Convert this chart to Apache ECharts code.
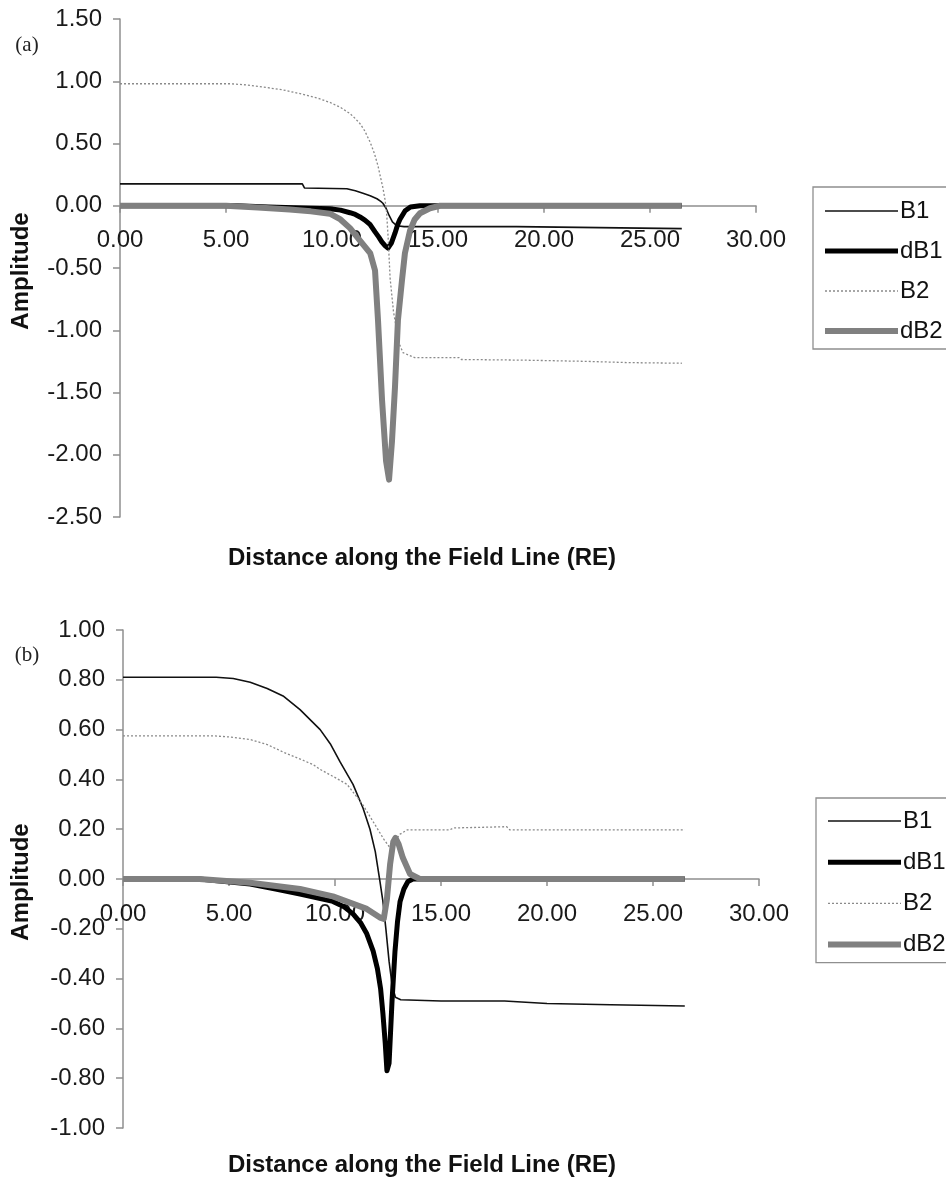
<!DOCTYPE html>
<html><head><meta charset="utf-8">
<script src="https://cdn.jsdelivr.net/npm/echarts@6/dist/echarts.min.js"></script>
<style>html,body{margin:0;padding:0;background:#fff}#c{width:946px;height:1188px}</style>
</head><body><div id="c"></div>
<script>
// ---- data ----
const seriesNames = ['B1', 'dB1', 'B2', 'dB2'];
const panelLabels = ['(a)', '(b)'];
const xTitle = 'Distance along the Field Line (RE)';
const yTitle = 'Amplitude';

// Panel (a): [distance, amplitude]
const a_B1 = [[0,0.176],[8.6,0.176],[8.7,0.143],[10.7,0.136],[11.1,0.12],[11.46,0.10],[11.8,0.08],[12.12,0.056],[12.3,0.035],[12.4,0.02],[12.55,-0.02],[12.7,-0.08],[12.85,-0.13],[13.05,-0.16],[13.4,-0.168],[18.7,-0.168],[18.75,-0.184],[26.5,-0.184]];
const a_dB1 = [[0,0],[5.5,0],[7,-0.01],[9,-0.02],[9.9,-0.024],[10.4,-0.035],[10.85,-0.056],[11.1,-0.07],[11.32,-0.09],[11.55,-0.115],[11.79,-0.15],[12.03,-0.21],[12.2,-0.25],[12.35,-0.29],[12.5,-0.32],[12.64,-0.34],[12.8,-0.3],[12.97,-0.22],[13.1,-0.15],[13.2,-0.11],[13.45,-0.04],[13.7,-0.01],[14.15,0],[26.5,0]];
const a_B2 = [[0,0.98],[5.2,0.98],[6.0,0.97],[6.9,0.95],[7.7,0.93],[8.5,0.9],[9.4,0.86],[9.9,0.83],[10.4,0.79],[10.85,0.74],[11.1,0.70],[11.32,0.66],[11.55,0.6],[11.8,0.51],[12.0,0.42],[12.17,0.32],[12.3,0.22],[12.4,0.145],[12.5,0.05],[12.57,-0.04],[12.65,-0.26],[12.74,-0.58],[12.9,-0.85],[13.05,-1.0],[13.15,-1.1],[13.35,-1.18],[13.9,-1.22],[16.0,-1.22],[16.1,-1.235],[19,-1.24],[22,-1.25],[24,-1.26],[26.5,-1.265]];
const a_dB2 = [[0,0],[5,0],[6.5,-0.015],[8,-0.03],[9,-0.045],[9.9,-0.064],[10.4,-0.11],[10.85,-0.18],[11.32,-0.28],[11.8,-0.38],[12.03,-0.52],[12.17,-0.92],[12.36,-1.56],[12.55,-2.05],[12.69,-2.2],[12.83,-1.89],[12.97,-1.46],[13.11,-0.92],[13.3,-0.6],[13.44,-0.38],[13.68,-0.2],[13.9,-0.11],[14.15,-0.06],[14.62,-0.02],[15.1,0],[26.5,0]];

// Panel (b)
const b_B1 = [[0,0.81],[4.4,0.81],[5.2,0.805],[6.0,0.79],[6.8,0.765],[7.55,0.735],[8.35,0.68],[9.3,0.6],[9.8,0.54],[10.24,0.47],[10.85,0.38],[11.32,0.285],[11.65,0.2],[11.9,0.11],[12.12,-0.01],[12.26,-0.09],[12.4,-0.2],[12.55,-0.33],[12.7,-0.43],[12.85,-0.475],[13.1,-0.485],[15,-0.49],[18,-0.49],[20,-0.5],[23,-0.505],[26.5,-0.51]];
const b_dB1 = [[0,0],[3.6,0],[6.0,-0.02],[7.2,-0.04],[8.35,-0.06],[9.9,-0.09],[10.4,-0.11],[10.85,-0.14],[11.2,-0.175],[11.5,-0.22],[11.8,-0.29],[12.0,-0.36],[12.15,-0.44],[12.26,-0.54],[12.37,-0.66],[12.45,-0.77],[12.55,-0.74],[12.69,-0.49],[12.83,-0.29],[12.95,-0.17],[13.07,-0.09],[13.25,-0.04],[13.44,-0.01],[13.68,0],[26.5,0]];
const b_B2 = [[0,0.575],[4.25,0.575],[5.1,0.57],[6.0,0.56],[6.8,0.54],[7.55,0.51],[8.96,0.46],[9.3,0.44],[9.95,0.41],[10.57,0.38],[11.3,0.3],[11.98,0.205],[12.3,0.16],[12.6,0.125],[12.8,0.15],[13.07,0.18],[13.4,0.197],[15.4,0.197],[15.6,0.205],[18.1,0.21],[18.25,0.197],[26.5,0.197]];
const b_dB2 = [[0,0],[3.6,0],[6,-0.015],[8.35,-0.04],[9.9,-0.07],[10.7,-0.095],[11.5,-0.12],[12.12,-0.155],[12.3,-0.16],[12.45,-0.08],[12.6,0.06],[12.75,0.15],[12.85,0.165],[13.0,0.14],[13.2,0.085],[13.54,0.02],[14.0,0],[26.5,0]];

const panelA = [a_B1, a_dB1, a_B2, a_dB2];
const panelB = [b_B1, b_dB1, b_B2, b_dB2];

// axis ranges
const xRange = {min: 0, max: 30, interval: 5};
const yRangeA = {min: -2.5, max: 1.5, interval: 0.5};
const yRangeB = {min: -1.0, max: 1.0, interval: 0.2};

// ---- styles ----
const lineStyles = {
  B1:  {color: '#111111', width: 1.6, type: 'solid'},
  dB1: {color: '#000000', width: 5, type: 'solid'},
  B2:  {color: '#8a8a8a', width: 1.3, type: [2, 2]},
  dB2: {color: '#808080', width: 6, type: 'solid'}
};
const FONT = 'Liberation Sans, Arial, Helvetica, sans-serif';
const axisColor = '#8f8f8f';

const grids = [
  {left: 120, top: 19, width: 636, height: 498},
  {left: 123, top: 630, width: 636, height: 498}
];
const yRanges = [yRangeA, yRangeB];

// place the x axis on the zero line of the value axis
function zeroOffset(i) {
  const g = grids[i], r = yRanges[i];
  return -g.height * (0 - r.min) / (r.max - r.min);
}

function xAxisFor(i) {
  return {
    type: 'value', gridIndex: i, min: xRange.min, max: xRange.max, interval: xRange.interval,
    position: 'bottom', offset: zeroOffset(i),
    axisLine: {onZero: false, lineStyle: {color: axisColor, width: 1.5}},
    axisTick: {show: true, inside: false, length: 7, lineStyle: {color: axisColor, width: 1.5}},
    axisLabel: {margin: 23, color: '#1a1a1a', fontSize: 24, fontFamily: FONT, formatter: v => v.toFixed(2)},
    splitLine: {show: false}
  };
}
function yAxisFor(i, r) {
  return {
    type: 'value', gridIndex: i, min: r.min, max: r.max, interval: r.interval,
    axisLine: {show: true, onZero: false, lineStyle: {color: axisColor, width: 1.5}},
    axisTick: {show: true, inside: false, length: 7, lineStyle: {color: axisColor, width: 1.5}},
    axisLabel: {margin: 18, color: '#1a1a1a', fontSize: 24, fontFamily: FONT, formatter: v => v.toFixed(2)},
    splitLine: {show: false}
  };
}

const series = [];
[panelA, panelB].forEach((panel, p) => {
  panel.forEach((data, k) => {
    const name = seriesNames[k];
    const ls = lineStyles[name];
    series.push({
      name: name, type: 'line', xAxisIndex: p, yAxisIndex: p, data: data,
      symbol: 'none', showSymbol: false, smooth: false,
      lineStyle: {color: ls.color, width: ls.width, type: ls.type, join: 'round'},
      itemStyle: {color: ls.color},
      emphasis: {disabled: true}, z: 2 + k
    });
  });
});

function legendFor(left, top, gap, padTop) {
  return {
    orient: 'vertical', left: left, top: top,
    itemWidth: 73, itemHeight: 14, itemGap: gap,
    padding: [padTop, 90, 6, 9],
    borderColor: '#8f8f8f', borderWidth: 1.3,
    selectedMode: false,
    textStyle: {fontSize: 24, fontFamily: FONT, color: '#111', padding: [0, 0, 0, -3], lineHeight: 23},
    data: seriesNames.map(n => ({
      name: n,
      lineStyle: {width: lineStyles[n].width, color: lineStyles[n].color, type: lineStyles[n].type},
      itemStyle: {color: 'rgba(0,0,0,0)', borderColor: 'rgba(0,0,0,0)', borderWidth: 0, opacity: 0}
    }))
  };
}

const textGraphics = [];
const panelTitleCfg = [
  {lab: {x: 27, y: 45}, ytitle: {x: 21, y: 271}, xtitle: {x: 422, y: 558}},
  {lab: {x: 27, y: 655}, ytitle: {x: 21, y: 882}, xtitle: {x: 422, y: 1165}}
];
panelTitleCfg.forEach((c, i) => {
  textGraphics.push({type: 'text', x: c.lab.x, y: c.lab.y,
    style: {text: panelLabels[i], font: '21px "Liberation Serif", "Times New Roman", serif', fill: '#222', align: 'center', verticalAlign: 'middle'}});
  textGraphics.push({type: 'text', x: c.ytitle.x, y: c.ytitle.y, rotation: Math.PI / 2,
    style: {text: yTitle, font: 'bold 24px ' + FONT, fill: '#111', align: 'center', verticalAlign: 'middle'}});
  textGraphics.push({type: 'text', x: c.xtitle.x, y: c.xtitle.y,
    style: {text: xTitle, font: 'bold 24px ' + FONT, fill: '#111', align: 'center', verticalAlign: 'middle'}});
});

const chart = echarts.init(document.getElementById('c'), null, {renderer: 'canvas'});
chart.setOption({
  animation: false,
  backgroundColor: '#ffffff',
  grid: grids,
  xAxis: [xAxisFor(0), xAxisFor(1)],
  yAxis: [yAxisFor(0, yRangeA), yAxisFor(1, yRangeB)],
  legend: [legendFor(813, 187, 16, 12), legendFor(816, 798, 17.2, 11)],
  series: series,
  graphic: textGraphics
});
</script>
</body></html>
